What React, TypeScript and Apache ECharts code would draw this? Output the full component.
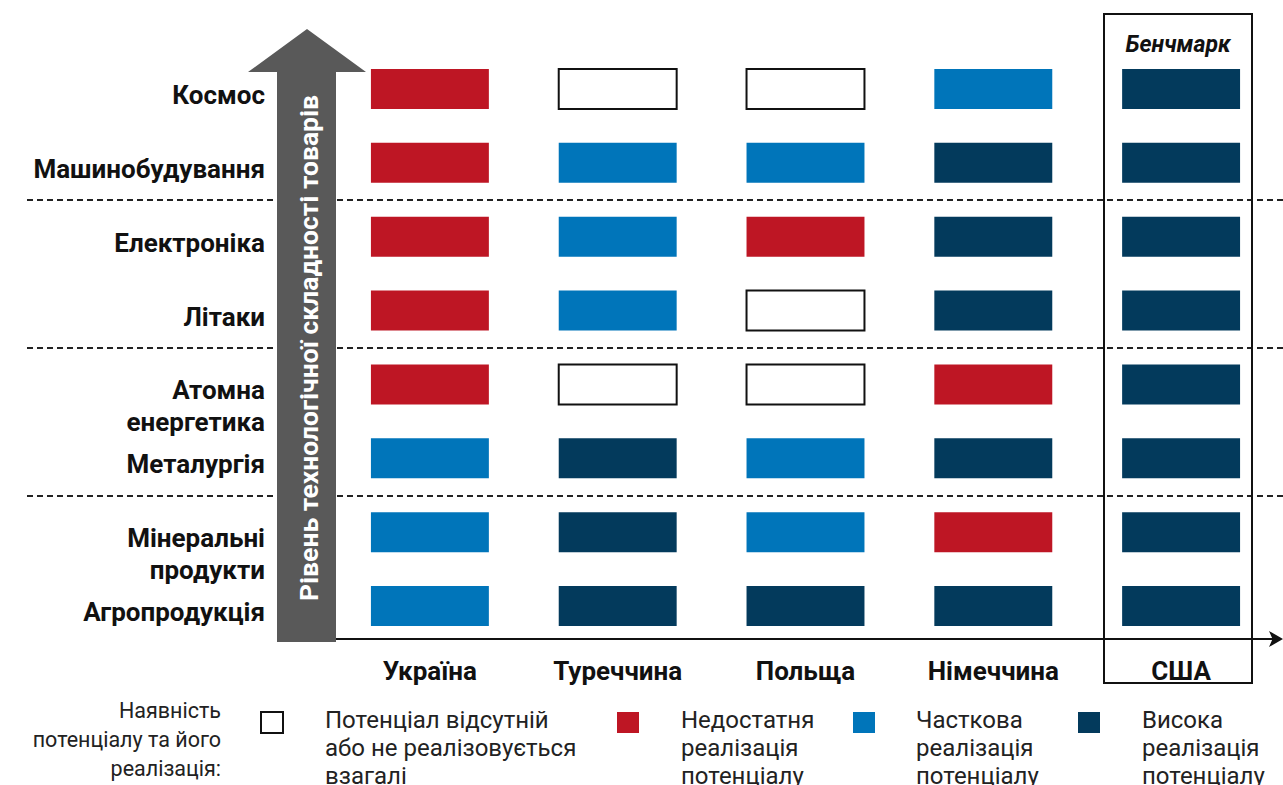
import React, { useEffect, useRef } from 'react';
import * as echarts from 'echarts';

const countries = ['Україна', 'Туреччина', 'Польща', 'Німеччина', 'США'];
const sectors = [
  'Космос',
  'Машинобудування',
  'Електроніка',
  'Літаки',
  'Атомна\nенергетика',
  'Металургія',
  'Мінеральні\nпродукти',
  'Агропродукція',
];
// 0 = потенціал відсутній, 1 = недостатня, 2 = часткова, 3 = висока реалізація
const ukraine = [1, 1, 1, 1, 1, 2, 2, 2];
const turkey = [0, 2, 2, 2, 0, 3, 3, 3];
const poland = [0, 2, 1, 0, 0, 2, 2, 3];
const germany = [2, 3, 3, 3, 1, 3, 1, 3];
const usa = [3, 3, 3, 3, 3, 3, 3, 3];
const levelNames = [
  'Потенціал відсутній\nабо не реалізовується\nвзагалі',
  'Недостатня\nреалізація\nпотенціалу',
  'Часткова\nреалізація\nпотенціалу',
  'Висока\nреалізація\nпотенціалу',
];
const groupStarts = [2, 4, 6];
const arrowTitle = 'Рівень технологічної складності товарів';
const legendTitle = 'Наявність\nпотенціалу та його\nреалізація:';
const benchmarkLabel = 'Бенчмарк';

const levelColors = ['#FFFFFF', '#BE1624', '#0075BA', '#033A5C'];
const FONT = 'Roboto, "Noto Sans", sans-serif';

export default function App() {
  const ref = useRef<HTMLDivElement>(null);
  useEffect(() => {
    if (!ref.current) return;
    const chart = echarts.init(ref.current, null, { renderer: 'svg' });
    const matrix = [ukraine, turkey, poland, germany, usa];

    const series: any[] = levelNames.map((name, lvl) => {
      const data: number[][] = [];
      matrix.forEach((col, ci) =>
        col.forEach((v, si) => {
          if (v === lvl) data.push([ci, si]);
        })
      );
      return {
        type: 'custom',
        name,
        xAxisIndex: 0,
        yAxisIndex: 0,
        data,
        encode: { x: 0, y: 1 },
        renderItem: (params: any, api: any) => {
          const c = api.coord([api.value(0), api.value(1)]);
          const sz = api.size([1, 1]);
          const w = sz[0] * 0.628;
          const h = sz[1] * 0.542;
          return {
            type: 'rect',
            shape: { x: c[0] - w / 2, y: c[1] - h / 2, width: w, height: h },
            style: {
              fill: levelColors[lvl],
              stroke: lvl === 0 ? '#111' : 'none',
              lineWidth: lvl === 0 ? 2 : 0,
            },
          };
        },
      };
    });

    series.push({
      type: 'line',
      name: 'groups',
      xAxisIndex: 1,
      yAxisIndex: 1,
      data: [],
      silent: true,
      markLine: {
        silent: true,
        symbol: ['none', 'none'],
        label: { show: false },
        lineStyle: { color: '#222', width: 2, type: [6, 4] },
        data: groupStarts.map((v) => ({ yAxis: v })),
      },
    });

    const legendIconX = [261, 617, 853, 1078];
    const legendTextX = [325, 681, 916, 1142];
    const legendGraphics: any[] = [];
    levelNames.forEach((name, i) => {
      legendGraphics.push({
        type: 'rect',
        shape: { x: legendIconX[i], y: 712, width: 22, height: 21 },
        style: {
          fill: levelColors[i],
          stroke: i === 0 ? '#111' : 'none',
          lineWidth: i === 0 ? 2 : 0,
        },
      });
      legendGraphics.push({
        type: 'text',
        x: legendTextX[i],
        y: 706,
        style: {
          text: name,
          fontFamily: FONT,
          fontSize: 24,
          lineHeight: 28,
          fill: '#222',
          align: 'left',
          verticalAlign: 'top',
        },
      });
    });

    const boldLabel = { fontFamily: FONT, fontSize: 26, fontWeight: 'bold', color: '#111' };

    chart.setOption({
      animation: false,
      grid: [
        { left: 336, top: 52, width: 939, height: 591, containLabel: false },
        { left: 27, top: 52, width: 1256, height: 591, containLabel: false },
      ],
      xAxis: [
        {
          type: 'category',
          gridIndex: 0,
          data: countries,
          offset: -4,
          axisLine: {
            onZero: false,
            lineStyle: { color: '#111', width: 2 },
            symbol: ['none', 'arrow'],
            symbolSize: [12, 14],
            symbolOffset: [0, 8],
          },
          axisTick: { show: false },
          axisLabel: { ...boldLabel, margin: 19 },
          splitLine: { show: false },
        },
        { type: 'value', gridIndex: 1, show: false, min: 0, max: 1 },
      ],
      yAxis: [
        {
          type: 'category',
          gridIndex: 0,
          inverse: true,
          data: sectors,
          axisLine: { show: false },
          axisTick: { show: false },
          axisLabel: {
            margin: 71,
            align: 'right',
            verticalAlign: 'top',
            formatter: (v: string) =>
              v
                .split('\n')
                .map((s, i) => (i === 0 ? `{a|${s}}` : `{b|${s}}`))
                .join('\n'),
            rich: {
              a: { ...boldLabel, lineHeight: 12, align: 'right' },
              b: { ...boldLabel, lineHeight: 52, align: 'right' },
            },
          },
          splitLine: { show: false },
        },
        {
          type: 'value',
          gridIndex: 1,
          inverse: true,
          min: 0,
          max: sectors.length,
          show: false,
          splitLine: { show: false },
        },
      ],
      series,
      graphic: [
        {
          type: 'polygon',
          z: 100,
          shape: {
            points: [
              [307, 29],
              [366, 72],
              [336, 72],
              [336, 642],
              [277, 642],
              [277, 72],
              [248, 72],
            ],
          },
          style: { fill: '#595959' },
        },
        {
          type: 'text',
          z: 101,
          x: 308,
          y: 348,
          rotation: Math.PI / 2,
          style: {
            text: arrowTitle,
            fontFamily: FONT,
            fontSize: 26.5,
            fontWeight: 'bold',
            fill: '#fff',
            align: 'center',
            verticalAlign: 'middle',
          },
        },
        {
          type: 'rect',
          z: 100,
          shape: { x: 1104, y: 14, width: 148, height: 669 },
          style: { fill: 'none', stroke: '#111', lineWidth: 2 },
        },
        {
          type: 'text',
          z: 100,
          x: 1178,
          y: 44,
          style: {
            text: benchmarkLabel,
            fontFamily: FONT,
            fontSize: 23,
            fontWeight: 'bold',
            fontStyle: 'italic',
            fill: '#111',
            align: 'center',
            verticalAlign: 'middle',
          },
        },
        {
          type: 'text',
          x: 221,
          y: 696,
          style: {
            text: legendTitle,
            fontFamily: FONT,
            fontSize: 21.5,
            lineHeight: 29,
            fill: '#222',
            align: 'right',
            verticalAlign: 'top',
          },
        },
        ...legendGraphics,
      ],
    });
    return () => chart.dispose();
  }, []);

  return (
    <div
      ref={ref}
      style={{ position: 'fixed', left: 0, top: 0, width: 1283, height: 785, background: '#fff' }}
    />
  );
}
